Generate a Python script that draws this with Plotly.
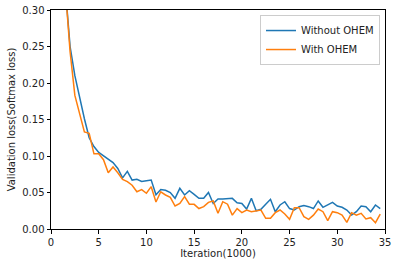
import plotly.graph_objects as go

iterations = [1.5, 2.0, 2.5, 3.0, 3.5, 4.0, 4.5, 5.0, 5.5, 6.0, 6.5, 7.0, 7.5, 8.0, 8.5, 9.0, 9.5, 10.0,
              10.5, 11.0, 11.5, 12.0, 12.5, 13.0, 13.5, 14.0, 14.5, 15.0, 15.5, 16.0, 16.5, 17.0, 17.5,
              18.0, 18.5, 19.0, 19.5, 20.0, 20.5, 21.0, 21.5, 22.0, 22.5, 23.0, 23.5, 24.0, 24.5, 25.0,
              25.5, 26.0, 26.5, 27.0, 27.5, 28.0, 28.5, 29.0, 29.5, 30.0, 30.5, 31.0, 31.5, 32.0, 32.5,
              33.0, 33.5, 34.0, 34.5]

without_ohem = [0.33, 0.25, 0.21, 0.178, 0.151, 0.125, 0.113, 0.105, 0.100, 0.096, 0.091, 0.083, 0.070,
                0.079, 0.067, 0.068, 0.065, 0.066, 0.067, 0.047, 0.054, 0.053, 0.050, 0.042, 0.0557,
                0.0466, 0.0525, 0.0475, 0.042, 0.042, 0.050, 0.035, 0.041, 0.041, 0.041, 0.042, 0.036,
                0.035, 0.0274, 0.042, 0.025, 0.027, 0.034, 0.0407, 0.0237, 0.0329, 0.0374, 0.028, 0.026,
                0.0306, 0.032, 0.0306, 0.028, 0.0384, 0.0297, 0.0329, 0.0365, 0.0315, 0.0297, 0.026,
                0.019, 0.0237, 0.0315, 0.0306, 0.0237, 0.0329, 0.028]

with_ohem = [0.33, 0.243, 0.183, 0.157, 0.133, 0.131, 0.103, 0.103, 0.095, 0.077, 0.085, 0.077, 0.068,
             0.065, 0.060, 0.051, 0.054, 0.049, 0.058, 0.037, 0.051, 0.0466, 0.0434, 0.0315, 0.035,
             0.0443, 0.034, 0.0338, 0.028, 0.0306, 0.0365, 0.0384, 0.0215, 0.0374, 0.034, 0.019,
             0.028, 0.0224, 0.026, 0.0237, 0.025, 0.026, 0.0146, 0.0146, 0.0224, 0.026, 0.0205,
             0.0132, 0.0292, 0.0292, 0.0169, 0.0132, 0.019, 0.0274, 0.0237, 0.0114, 0.0237, 0.0224,
             0.019, 0.0091, 0.0224, 0.019, 0.0215, 0.0137, 0.0155, 0.0087, 0.0205]

x_ticks = [0, 5, 10, 15, 20, 25, 30, 35]
y_ticks = [0.00, 0.05, 0.10, 0.15, 0.20, 0.25, 0.30]

fig = go.Figure()
fig.add_trace(go.Scatter(x=iterations, y=without_ohem, mode="lines", name="Without OHEM",
                         line=dict(color="#1f77b4", width=1.5)))
fig.add_trace(go.Scatter(x=iterations, y=with_ohem, mode="lines", name="With OHEM",
                         line=dict(color="#ff7f0e", width=1.5)))

axis_common = dict(showgrid=False, zeroline=False, showline=True, linecolor="black", linewidth=1,
                   mirror=True, ticks="outside", ticklen=3.5, tickwidth=1, tickcolor="black",
                   automargin=False,
                   tickfont=dict(family="DejaVu Sans", size=10, color="#222"))

fig.update_layout(
    width=398, height=266,
    margin=dict(l=51, r=13, t=10, b=37),
    paper_bgcolor="white", plot_bgcolor="white",
    font=dict(family="DejaVu Sans", size=10, color="#222"),
    xaxis=dict(range=[0, 35], tickvals=x_ticks, title=dict(text="Iteration(1000)", standoff=2,
               font=dict(size=10)), **axis_common),
    yaxis=dict(range=[0, 0.30], tickvals=y_ticks, tickformat=".2f",
               title=dict(text="Validation loss(Softmax loss)", standoff=4, font=dict(size=10)),
               **axis_common),
    legend=dict(x=0.985, y=0.977, xanchor="right", yanchor="top", bgcolor="rgba(255,255,255,0.8)",
                bordercolor="#cccccc", borderwidth=1, font=dict(size=10), itemwidth=30,
                tracegroupgap=0),
    showlegend=True,
)

fig.write_html("out.html", config={"displayModeBar": False},
               post_script="document.body.style.margin='0';")
